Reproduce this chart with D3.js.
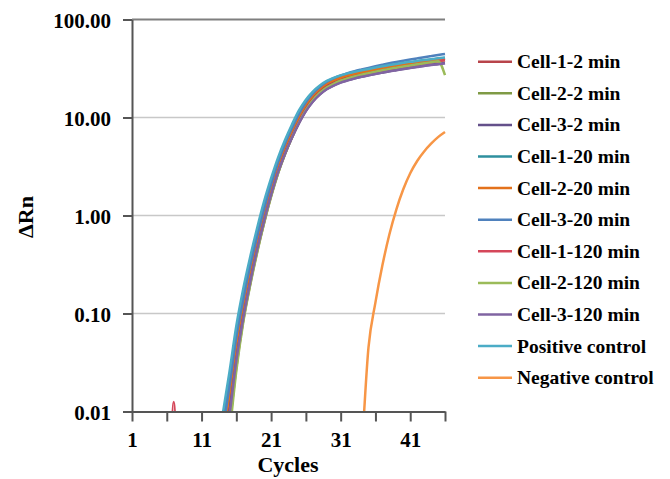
<!DOCTYPE html>
<html>
<head>
<meta charset="utf-8">
<script src="https://cdn.jsdelivr.net/npm/d3@7"></script>
<style>
  body { margin: 0; background: #fff; }
  svg text { font-family: "Liberation Serif", "Times New Roman", serif; font-weight: bold; fill: #000; }
</style>
</head>
<body>
<svg id="chart" width="670" height="479"></svg>
<script>
// cycle numbers (x axis)
var cycles = [1,2,3,4,5,6,7,8,9,10,11,12,13,14,15,16,17,18,19,20,21,22,23,24,25,26,27,28,29,30,31,32,33,34,35,36,37,38,39,40,41,42,43,44,45,46];

var seriesNames = ['Cell-1-2 min','Cell-2-2 min','Cell-3-2 min','Cell-1-20 min','Cell-2-20 min','Cell-3-20 min',
                   'Cell-1-120 min','Cell-2-120 min','Cell-3-120 min','Positive control','Negative control'];
var seriesColors = ['#B8444A','#7F9A45','#64508A','#2E8F9E','#E3711B','#4F81BD',
                    '#D5475A','#9BBB59','#8064A2','#4BACC6','#F79646'];

// delta Rn per cycle, null = not on the chart (below 0.01)
var _ = null;
var cell1_2min = [_,_,_,_,_,_,_,_,_,_,_,_,0.001,0.003,0.011,0.038,0.1,0.23,0.49,0.95,1.75,2.95,4.6,6.8,9.5,12.7,15.9,18.8,21.3,23.2,24.8,26.1,27.3,28.4,29.4,30.4,31.4,32.4,33.3,34.2,35.1,36.0,36.9,37.8,38.6,39.5];
var cell2_2min = [_,_,_,_,_,_,_,_,_,_,_,_,0.001,0.002,0.007,0.028,0.085,0.2,0.43,0.85,1.58,2.7,4.25,6.3,8.9,11.9,15.0,17.8,20.2,22.1,23.7,25.0,26.2,27.3,28.3,29.3,30.3,31.3,32.2,33.1,34.0,34.9,35.8,36.7,37.6,38.4];
var cell3_2min = [_,_,_,_,_,_,_,_,_,_,_,_,0.001,0.003,0.01,0.035,0.095,0.22,0.46,0.9,1.65,2.8,4.3,6.3,8.8,11.7,14.6,17.2,19.5,21.3,22.8,24.0,25.1,26.1,27.0,27.9,28.8,29.7,30.5,31.3,32.1,32.9,33.7,34.5,35.2,36.0];
var cell1_20min = [_,_,_,_,_,_,_,_,_,_,_,_,0.002,0.007,0.02,0.062,0.15,0.33,0.66,1.25,2.2,3.6,5.5,8.0,11.1,14.5,17.7,20.6,23.0,24.9,26.4,27.7,28.8,29.8,30.8,31.8,32.8,33.8,34.7,35.6,36.5,37.3,38.1,38.9,39.7,40.5];
var cell2_20min = [_,_,_,_,_,_,_,_,_,_,_,_,0.001,0.005,0.015,0.05,0.125,0.28,0.57,1.1,1.95,3.3,5.1,7.4,10.3,13.6,16.8,19.7,22.2,24.1,25.6,26.9,28.0,29.0,30.0,31.0,32.0,33.0,33.9,34.8,35.7,36.5,37.3,38.1,38.9,39.7];
var cell3_20min = [_,_,_,_,_,_,_,_,_,_,_,_,0.002,0.006,0.018,0.058,0.14,0.31,0.62,1.18,2.1,3.5,5.4,7.8,10.9,14.3,17.6,20.6,23.2,25.2,26.9,28.4,29.7,30.9,32.1,33.3,34.5,35.7,36.8,37.9,39.0,40.1,41.2,42.3,43.4,44.5];
var cell1_120min = [_,_,_,_,_,0.000001,0.0125,0.000001,_,_,_,_,0.001,0.002,0.008,0.03,0.087,0.205,0.44,0.86,1.6,2.75,4.3,6.3,8.9,11.9,14.9,17.7,20.1,22.0,23.6,24.9,26.1,27.2,28.2,29.2,30.2,31.2,32.1,33.0,33.9,34.8,35.7,36.6,37.5,38.4];
var cell2_120min = [_,_,_,_,_,_,_,_,_,_,_,_,0.001,0.002,0.006,0.026,0.082,0.195,0.42,0.84,1.56,2.68,4.2,6.25,8.85,11.9,15.0,17.8,20.2,22.1,23.7,25.0,26.2,27.3,28.3,29.3,30.3,31.3,32.2,33.1,34.0,34.9,35.8,36.7,37.6,27.0];
var cell3_120min = [_,_,_,_,_,_,_,_,_,_,_,_,0.001,0.003,0.009,0.033,0.09,0.21,0.45,0.88,1.62,2.75,4.25,6.2,8.7,11.6,14.5,17.1,19.4,21.2,22.7,23.9,25.0,26.0,26.9,27.8,28.7,29.6,30.4,31.2,32.0,32.8,33.6,34.3,35.0,35.7];
var positiveControl = [_,_,_,_,_,_,_,_,_,_,_,_,0.003,0.009,0.025,0.075,0.18,0.38,0.75,1.4,2.4,3.9,5.9,8.5,11.8,15.2,18.4,21.2,23.6,25.4,26.9,28.2,29.3,30.3,31.3,32.3,33.3,34.3,35.2,36.1,37.0,37.8,38.6,39.4,40.2,41.0];
var negativeControl = [_,_,_,_,_,_,_,_,_,_,_,_,_,_,_,_,_,_,_,_,_,_,_,_,_,_,_,_,_,_,_,_,0.0008,0.004,0.045,0.13,0.31,0.64,1.15,1.85,2.7,3.6,4.5,5.4,6.3,7.1];

var seriesValues = [cell1_2min, cell2_2min, cell3_2min, cell1_20min, cell2_20min, cell3_20min,
                    cell1_120min, cell2_120min, cell3_120min, positiveControl, negativeControl];

var yTicks = [0.01, 0.1, 1, 10, 100];
var xTicks = [1,6,11,16,21,26,31,36,41,46];
var xLabels = [1,11,21,31,41];

var svg = d3.select('#chart');
var plot = {left: 132, right: 445, top: 19.5, bottom: 411.5};

var x = d3.scaleLinear().domain([1, 46]).range([plot.left, plot.right]);
var y = d3.scaleLog().domain([0.01, 100]).range([plot.bottom, plot.top]);

// gridlines
svg.append('g')
    .selectAll('line')
    .data(yTicks.slice(1))
    .enter().append('line')
    .attr('x1', plot.left).attr('x2', plot.right)
    .attr('y1', function (d) { return y(d); })
    .attr('y2', function (d) { return y(d); })
    .attr('stroke', function (d) { return d === 100 ? '#7f7f7f' : '#c8c8c8'; })
    .attr('stroke-width', function (d) { return d === 100 ? 2 : 1.5; });

// series
svg.append('clipPath').attr('id', 'clip')
    .append('rect')
    .attr('x', plot.left).attr('y', plot.top - 5)
    .attr('width', plot.right - plot.left + 5).attr('height', plot.bottom - plot.top + 5);

var line = d3.line()
    .defined(function (d) { return d.v != null; })
    .x(function (d) { return x(d.c); })
    .y(function (d) { return y(d.v); })
    .curve(d3.curveMonotoneX);

var lines = svg.append('g').attr('clip-path', 'url(#clip)');
seriesValues.forEach(function (vals, i) {
    var pts = cycles.map(function (c, j) { return {c: c, v: vals[j]}; });
    lines.append('path')
        .attr('d', line(pts))
        .attr('fill', 'none')
        .attr('stroke', seriesColors[i])
        .attr('stroke-width', 2.5)
        .attr('stroke-linejoin', 'round');
});

// axes
var yAxis = d3.axisLeft(y)
    .tickValues(yTicks)
    .tickFormat(d3.format('.2f'))
    .tickSize(9)
    .tickSizeOuter(0)
    .tickPadding(12);

var xAxis = d3.axisBottom(x)
    .tickValues(xTicks)
    .tickFormat(function (d) { return xLabels.indexOf(d) >= 0 ? d : ''; })
    .tickSize(10)
    .tickSizeOuter(0)
    .tickPadding(11);

var gy = svg.append('g').attr('transform', 'translate(' + plot.left + ',0)').call(yAxis);
var gx = svg.append('g').attr('transform', 'translate(0,' + plot.bottom + ')').call(xAxis);

[gx, gy].forEach(function (g) {
    g.selectAll('path, line').attr('stroke', '#555').attr('stroke-width', 2);
    g.selectAll('text').style('font-size', '21px');
});
gy.selectAll('text').attr('dy', '0.38em');

// titles
svg.append('text')
    .attr('x', 288).attr('y', 472)
    .attr('text-anchor', 'middle')
    .style('font-size', '22px')
    .text('Cycles');

svg.append('text')
    .attr('transform', 'translate(33,217) rotate(-90)')
    .attr('text-anchor', 'middle')
    .style('font-size', '22px')
    .text('\u0394Rn');

// legend
var legend = svg.append('g');
seriesNames.forEach(function (name, i) {
    var ly = 61.7 + i * 31.6;
    legend.append('line')
        .attr('x1', 478).attr('x2', 512)
        .attr('y1', ly).attr('y2', ly)
        .attr('stroke', seriesColors[i])
        .attr('stroke-width', 2.5);
    legend.append('text')
        .attr('x', 517).attr('y', ly + 6.5)
        .style('font-size', '19.5px')
        .text(name);
});
</script>
</body>
</html>
